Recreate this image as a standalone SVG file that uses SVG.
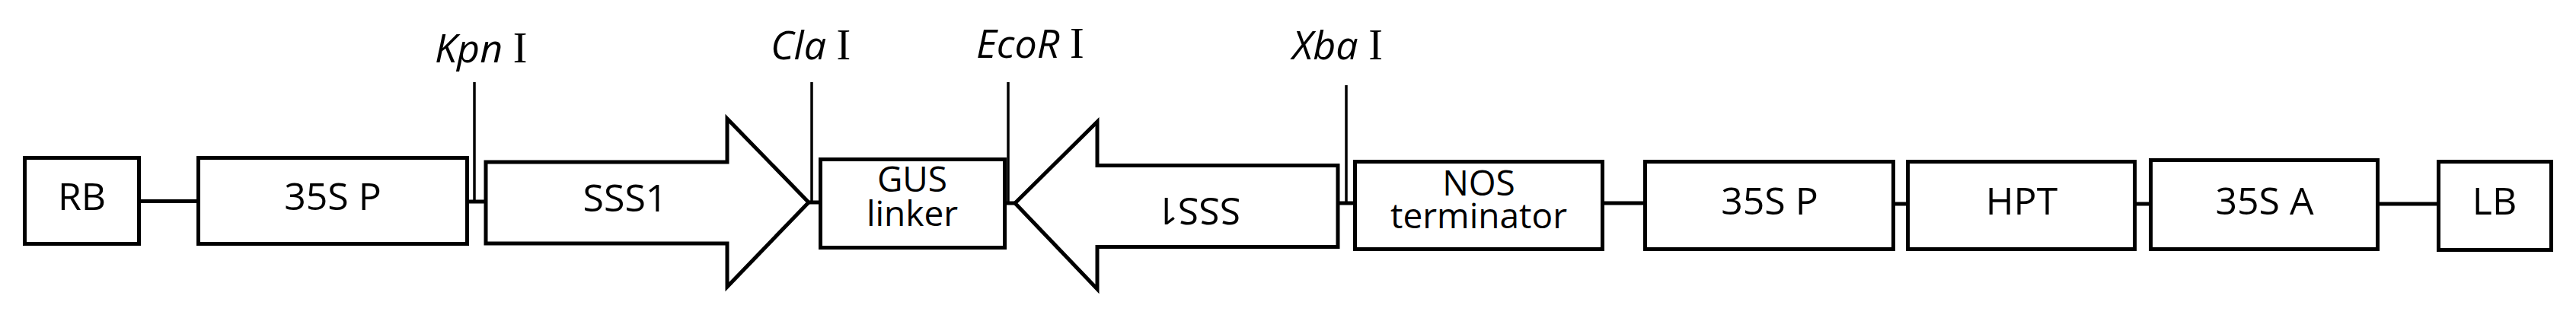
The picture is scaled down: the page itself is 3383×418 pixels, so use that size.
<svg xmlns="http://www.w3.org/2000/svg" width="3383" height="418" viewBox="0 0 3383 418">
<style>
.box{fill:#fff;stroke:#000;stroke-width:5}
.conn{stroke:#000;stroke-width:5;fill:none}
.site{stroke:#000;stroke-width:3.5;fill:none}
.t{font-family:"Open Sans","Noto Sans",sans-serif;font-size:50px;fill:#000;text-anchor:middle}
.t2{font-family:"Open Sans","Noto Sans",sans-serif;font-size:46px;fill:#000;text-anchor:middle}
.lab{font-family:"Open Sans","Noto Sans",sans-serif;font-size:52px;font-style:italic;fill:#000}
.rn{font-family:"Liberation Serif",serif;font-size:56px;font-style:normal}
</style>
<rect width="3383" height="418" fill="#fff"/>
<g id="connectors">
<line class="conn" x1="185" y1="264.5" x2="258" y2="264.5"/>
<line class="conn" x1="616" y1="265" x2="636" y2="265"/>
<line class="conn" x1="1062" y1="266" x2="1075" y2="266"/>
<line class="conn" x1="1322" y1="267" x2="1333" y2="267"/>
<line class="conn" x1="1757" y1="267" x2="1777" y2="267"/>
<line class="conn" x1="2107" y1="267" x2="2158" y2="267"/>
<line class="conn" x1="2489" y1="268" x2="2503" y2="268"/>
<line class="conn" x1="2806" y1="268" x2="2822" y2="268"/>
<line class="conn" x1="3125" y1="268" x2="3200" y2="268"/>
<line class="site" x1="623" y1="108" x2="623" y2="265"/>
<line class="site" x1="1066" y1="108" x2="1066" y2="266"/>
<line class="site" x1="1324" y1="108" x2="1324" y2="267"/>
<line class="site" x1="1768" y1="112" x2="1768" y2="267"/>
</g>
<g id="RB"><rect class="box" x="32.5" y="207.5" width="150" height="113"/><text class="t" x="107.5" y="276">RB</text></g>
<g id="P35S_1"><rect class="box" x="260.5" y="207.5" width="353" height="113"/><text class="t" x="437" y="276">35S P</text></g>
<g id="SSS1_fwd"><polygon class="box" points="638,213 955,213 955,156 1062,266 955,377 955,320 638,320"/><text class="t" x="821" y="278">SSS1</text></g>
<g id="GUS"><rect class="box" x="1077.5" y="209.5" width="242" height="116"/><text class="t2" x="1198" y="252">GUS</text><text class="t2" x="1198" y="297">linker</text></g>
<g id="SSS1_rev"><polygon class="box" points="1333,267 1441,160 1441,217.5 1757,217.5 1757,324.5 1441,324.5 1441,380"/><text class="t" x="1574" y="295.5" transform="rotate(180 1574 277.5)">SSS1</text></g>
<g id="NOS"><rect class="box" x="1779.5" y="212.5" width="325" height="115"/><text class="t2" x="1942" y="257">NOS</text><text class="t2" x="1942" y="300">terminator</text></g>
<g id="P35S_2"><rect class="box" x="2160.5" y="212.5" width="326" height="115"/><text class="t" x="2324" y="282">35S P</text></g>
<g id="HPT"><rect class="box" x="2505.5" y="212.5" width="298" height="115"/><text class="t" x="2655" y="282">HPT</text></g>
<g id="A35S"><rect class="box" x="2824.5" y="210.5" width="298" height="117"/><text class="t" x="2974" y="282">35S A</text></g>
<g id="LB"><rect class="box" x="3202.5" y="212.5" width="148" height="116"/><text class="t" x="3276" y="282">LB</text></g>
<g id="site_labels">
<text class="lab" x="571" y="82">Kpn <tspan class="rn">I</tspan></text>
<text class="lab" x="1012" y="78">Cla <tspan class="rn">I</tspan></text>
<text class="lab" x="1282" y="76">EcoR <tspan class="rn">I</tspan></text>
<text class="lab" x="1697" y="78">Xba <tspan class="rn">I</tspan></text>
</g>
</svg>
